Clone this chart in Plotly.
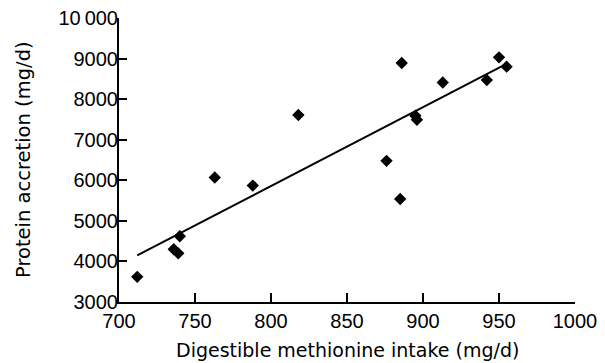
import plotly.graph_objects as go

intake = [712, 736, 739, 740, 763, 788, 818, 876, 885, 886, 895, 896, 913, 942, 950, 955]
accretion = [3620, 4300, 4200, 4620, 6070, 5870, 7610, 6480, 5540, 8890, 7590, 7490, 8410, 8470, 9030, 8800]

fit_x = [712, 953]
fit_y = [4150, 8830]

x_ticks = [700, 750, 800, 850, 900, 950, 1000]
y_ticks = [3000, 4000, 5000, 6000, 7000, 8000, 9000, 10000]
y_tick_text = ["3000", "4000", "5000", "6000", "7000", "8000", "9000", "10\u2009000"]

x_title = "Digestible methionine intake (mg/d)"
y_title = "Protein accretion (mg/d)"

# page body has an 8px margin; figure is sized/placed to compensate
W, H = 597, 355
ML, MR, MT, MB = 111, 30, 10, 61
PW, PH = W - ML - MR, H - MT - MB

fig = go.Figure()
fig.add_trace(go.Scatter(x=fit_x, y=fit_y, mode="lines",
                         line=dict(color="black", width=2), showlegend=False))
fig.add_trace(go.Scatter(x=intake, y=accretion, mode="markers",
                         marker=dict(symbol="diamond", size=9.5, color="black"),
                         showlegend=False))

tick_font = dict(family="Liberation Sans, Arial, sans-serif", size=20, color="black")
title_font = dict(family="DejaVu Sans, sans-serif", size=19, color="black")

fig.update_layout(
    width=W, height=H,
    margin=dict(l=ML, r=MR, t=MT, b=MB),
    paper_bgcolor="white", plot_bgcolor="white",
    xaxis=dict(range=[700, 1000], tickvals=x_ticks, showgrid=False, zeroline=False,
               showline=True, linecolor="black", linewidth=2, automargin=False,
               ticks="inside", ticklen=9, tickwidth=2, tickcolor="black",
               tickfont=tick_font, ticklabelstandoff=0, ticklabeloverflow="allow"),
    yaxis=dict(range=[3000, 10000], tickvals=y_ticks, ticktext=y_tick_text,
               showgrid=False, zeroline=False, automargin=False,
               showline=True, linecolor="black", linewidth=2,
               ticks="inside", ticklen=8, tickwidth=2, tickcolor="black",
               tickfont=tick_font, ticklabelstandoff=-5, ticklabeloverflow="allow"),
    annotations=[
        dict(text=x_title, xref="paper", yref="paper", x=0.5, y=-48 / PH,
             xanchor="center", yanchor="middle", showarrow=False, font=title_font),
        dict(text=y_title, xref="paper", yref="paper", x=-96 / PW, y=0.5,
             xanchor="center", yanchor="middle", showarrow=False, textangle=-90,
             font=dict(family="DejaVu Sans, sans-serif", size=19.5, color="black")),
    ],
)

fig.write_html("out.html")
